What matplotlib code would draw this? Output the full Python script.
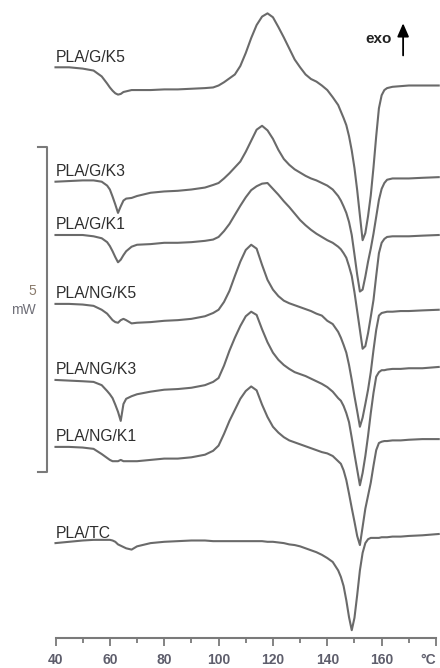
import numpy as np
import matplotlib.pyplot as plt

plt.rcParams["font.family"] = ["Liberation Sans", "DejaVu Sans"]

# temperature grid (°C)
temp = [40, 45, 50, 54, 57, 59, 60, 61, 62, 63, 64, 65, 66, 68, 70, 75, 80, 85, 90, 95, 98,
        100, 102, 104, 106, 108, 110, 112, 114, 116, 118, 120, 122, 124, 126, 128, 130,
        132, 134, 136, 138, 140, 142,
        144, 145, 146, 147, 148, 149, 150, 151, 152, 153, 154, 155, 156, 157, 158, 159,
        160, 161, 162, 164, 167, 170, 175, 181]

# heat flow (mW), relative to the value at 40 °C, exo up
hf_g_k5 = [0, 0, -0.02, -0.05, -0.14, -0.25, -0.31, -0.36, -0.40, -0.42, -0.41, -0.38, -0.37, -0.35, -0.35,
           -0.35, -0.34, -0.34, -0.33, -0.32, -0.31,
           -0.28, -0.23, -0.17, -0.11, 0.02, 0.22, 0.45, 0.65, 0.78, 0.83, 0.77, 0.62, 0.46, 0.29, 0.12, 0,
           -0.11, -0.18, -0.22, -0.28, -0.35, -0.46,
           -0.58, -0.68, -0.78, -0.89, -1.06, -1.28, -1.55, -1.89, -2.28, -2.66, -2.55, -2.29, -1.97, -1.54,
           -1.06, -0.63, -0.43, -0.35, -0.32, -0.30, -0.29, -0.28, -0.28, -0.28]
hf_g_k3 = [0, 0.01, 0.02, 0.02, 0, -0.06, -0.12, -0.23, -0.35, -0.48, -0.38, -0.29, -0.26, -0.25, -0.22,
           -0.17, -0.15, -0.14, -0.12, -0.09, -0.05,
           -0.02, 0.05, 0.13, 0.22, 0.31, 0.46, 0.63, 0.80, 0.86, 0.79, 0.66, 0.49, 0.35, 0.26, 0.19, 0.14,
           0.09, 0.05, 0.02, -0.02, -0.06, -0.12,
           -0.22, -0.29, -0.38, -0.48, -0.62, -0.82, -1.12, -1.43, -1.69, -1.66, -1.46, -1.23, -1.03, -0.80,
           -0.54, -0.28, -0.11, -0.02, 0.03, 0.05, 0.05, 0.05, 0.06, 0.07]
hf_g_k1 = [0, 0, 0, -0.02, -0.05, -0.11, -0.17, -0.25, -0.34, -0.42, -0.38, -0.31, -0.25, -0.18, -0.15,
           -0.14, -0.12, -0.12, -0.11, -0.09, -0.07,
           -0.03, 0.06, 0.17, 0.31, 0.45, 0.58, 0.69, 0.75, 0.79, 0.80, 0.71, 0.62, 0.52, 0.43, 0.33, 0.23,
           0.15, 0.08, 0.02, -0.03, -0.08, -0.12,
           -0.18, -0.22, -0.28, -0.35, -0.48, -0.63, -0.88, -1.17, -1.46, -1.75, -1.71, -1.51, -1.26, -1.00,
           -0.63, -0.28, -0.12, -0.06, -0.03, -0.02, -0.02, -0.02, -0.01, 0]
hf_ng_k5 = [0, 0, -0.01, -0.03, -0.09, -0.15, -0.20, -0.25, -0.28, -0.29, -0.25, -0.23, -0.25, -0.30, -0.29,
            -0.28, -0.26, -0.25, -0.23, -0.19, -0.14,
            -0.09, 0.03, 0.20, 0.43, 0.65, 0.83, 0.91, 0.85, 0.60, 0.37, 0.22, 0.12, 0.05, 0.01, -0.02, -0.05,
            -0.08, -0.11, -0.15, -0.18, -0.26, -0.31,
            -0.43, -0.52, -0.63, -0.75, -0.94, -1.17, -1.42, -1.65, -1.89, -1.75, -1.54, -1.32, -1.05, -0.71,
            -0.40, -0.18, -0.14, -0.13, -0.12, -0.12, -0.11, -0.11, -0.10, -0.09]
hf_ng_k3 = [0, -0.01, -0.02, -0.03, -0.08, -0.17, -0.22, -0.28, -0.38, -0.49, -0.63, -0.37, -0.29, -0.25, -0.22,
            -0.18, -0.15, -0.14, -0.12, -0.08, -0.03,
            0.03, 0.22, 0.45, 0.65, 0.83, 0.98, 1.05, 1.00, 0.78, 0.58, 0.42, 0.31, 0.23, 0.17, 0.12, 0.09,
            0.06, 0.02, -0.02, -0.06, -0.11, -0.18,
            -0.28, -0.32, -0.40, -0.51, -0.65, -0.89, -1.14, -1.38, -1.62, -1.43, -1.17, -0.86, -0.51, -0.20,
            0.05, 0.12, 0.15, 0.15, 0.16, 0.17, 0.17, 0.18, 0.18, 0.20]
hf_ng_k1 = [0, 0, -0.01, -0.03, -0.11, -0.17, -0.20, -0.22, -0.22, -0.22, -0.20, -0.22, -0.22, -0.22, -0.22,
            -0.20, -0.18, -0.18, -0.16, -0.12, -0.06,
            0.02, 0.20, 0.40, 0.57, 0.74, 0.86, 0.93, 0.87, 0.65, 0.46, 0.31, 0.22, 0.15, 0.10, 0.07, 0.04,
            0.01, -0.02, -0.05, -0.08, -0.10, -0.14,
            -0.22, -0.26, -0.36, -0.51, -0.72, -0.94, -1.15, -1.37, -1.51, -1.23, -0.95, -0.75, -0.55, -0.29,
            -0.05, 0.06, 0.08, 0.09, 0.09, 0.10, 0.10, 0.11, 0.12, 0.12]
hf_tc = [0, 0.02, 0.04, 0.05, 0.05, 0.05, 0.05, 0.04, 0.02, -0.02, -0.04, -0.06, -0.08, -0.10, -0.05,
         0, 0.02, 0.03, 0.04, 0.04, 0.03,
         0.03, 0.03, 0.03, 0.03, 0.03, 0.03, 0.03, 0.03, 0.03, 0.02, 0.02, 0.01, 0, -0.02, -0.03, -0.05,
         -0.08, -0.11, -0.14, -0.18, -0.23, -0.29,
         -0.42, -0.52, -0.66, -0.88, -1.14, -1.34, -1.15, -0.80, -0.42, -0.15, 0, 0.06, 0.08, 0.08,
         0.08, 0.08, 0.09, 0.09, 0.09, 0.10, 0.10, 0.11, 0.12, 0.14]

samples = ["PLA/G/K5", "PLA/G/K3", "PLA/G/K1", "PLA/NG/K5", "PLA/NG/K3", "PLA/NG/K1", "PLA/TC"]
curves = [hf_g_k5, hf_g_k3, hf_g_k1, hf_ng_k5, hf_ng_k3, hf_ng_k1, hf_tc]
offsets = [8.78, 7.02, 6.20, 5.14, 3.97, 2.94, 1.46]  # vertical shift (mW)

xticks = [40, 60, 80, 100, 120, 140, 160, 180]
xticklabels = ["40", "60", "80", "100", "120", "140", "160", "°C"]

# scale bar: 5 mW
bar_top, bar_len = 7.55, 5.0

W, H = 440, 668
fig = plt.figure(figsize=(W / 100, H / 100), dpi=100)
ax = fig.add_axes([55.5 / W, 30 / H, (436 - 55.5) / W, 638 / H])

line_color = "#6a6a6a"
for name, hf, off in zip(samples, curves, offsets):
    y = np.array(hf) + off
    ax.plot(temp, y, color=line_color, lw=1.5, clip_on=False, solid_joinstyle="round")
    ax.annotate(name, (40, off), xytext=(0, 4), textcoords="offset points",
                fontsize=11.3, color="#2e2e2e", ha="left", va="baseline")

ax.set_xlim(40, 180)
ax.set_ylim(0, 638 / 65)

for s in ["left", "right", "top"]:
    ax.spines[s].set_visible(False)
ax.spines["bottom"].set_color("#7a7a7a")
ax.spines["bottom"].set_linewidth(1.5)
ax.yaxis.set_visible(False)

ax.set_xticks(xticks)
ax.set_xticklabels(xticklabels, fontweight="bold")
ax.set_xticks(range(50, 180, 20), minor=True)
ax.tick_params(axis="x", which="major", direction="out", length=6, width=1.3,
               color="#7a7a7a", labelsize=10, labelcolor="#5e5e6c", pad=4.5)
ax.tick_params(axis="x", which="minor", direction="out", length=3.5, width=1.3,
               color="#7a7a7a")
ax.get_xticklabels()[-1].set_horizontalalignment("right")

# scale bar
bx, sx = 36.9, 33.6
ax.plot([sx, bx, bx, sx], [bar_top, bar_top, bar_top - bar_len, bar_top - bar_len],
        color="#7a7a7a", lw=1.5, clip_on=False)
ax.text(32.8, 5.34, "5", ha="right", va="center", fontsize=10, color="#8a7b6c")
ax.text(32.8, 5.04, "mW", ha="right", va="center", fontsize=10, color="#6f6f78")

# exo arrow
ax.annotate("", xy=(167.9, 9.5), xytext=(167.9, 8.92),
            arrowprops=dict(arrowstyle="-|>,head_length=0.8,head_width=0.35",
                            color="black", lw=1.3), annotation_clip=False)
ax.text(163.8, 9.22, "exo", ha="right", va="center", fontsize=11,
        fontweight="bold", color="#222222")

fig.savefig("out.png", dpi=100)
